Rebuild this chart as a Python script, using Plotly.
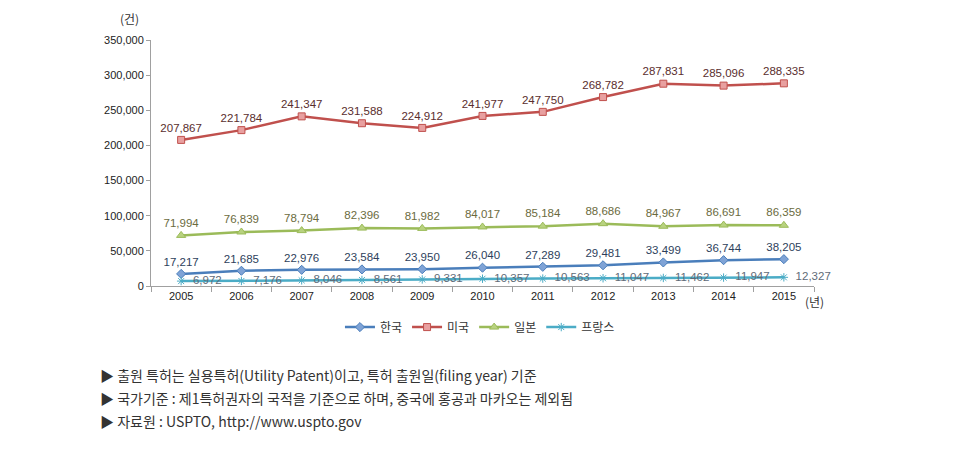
import plotly.graph_objects as go

years = ["2005", "2006", "2007", "2008", "2009", "2010", "2011", "2012", "2013", "2014", "2015"]
korea = [17217, 21685, 22976, 23584, 23950, 26040, 27289, 29481, 33499, 36744, 38205]
usa = [207867, 221784, 241347, 231588, 224912, 241977, 247750, 268782, 287831, 285096, 288335]
japan = [71994, 76839, 78794, 82396, 81982, 84017, 85184, 88686, 84967, 86691, 86359]
france = [6972, 7176, 8046, 8561, 9331, 10357, 10563, 11047, 11462, 11947, 12327]
names = ["한국", "미국", "일본", "프랑스"]
notes = [
    "▶ 출원 특허는 실용특허(Utility Patent)이고, 특허 출원일(filing year) 기준",
    "▶ 국가기준 : 제1특허권자의 국적을 기준으로 하며, 중국에 홍공과 마카오는 제외됨",
    "▶ 자료원 : USPTO, http://www.uspto.gov",
]

font_main = "Noto Sans CJK KR"
lbl_font = dict(family="Liberation Sans, Arial", size=11.5)

fig = go.Figure()
fig.add_trace(go.Scatter(
    x=years, y=korea, name=names[0], mode="lines+markers+text",
    line=dict(color="#4a7ebb", width=2.5),
    marker=dict(symbol="diamond", size=7, color="#7fa3d6", line=dict(color="#4a7ebb", width=1)),
    text=[f"{v:,}" for v in korea], textposition="top center",
    textfont=dict(color="#2e3f5c", **lbl_font), cliponaxis=False,
))
fig.add_trace(go.Scatter(
    x=years, y=usa, name=names[1], mode="lines+markers+text",
    line=dict(color="#c0504d", width=2.5),
    marker=dict(symbol="square", size=7, color="#e8a0a0", line=dict(color="#c0504d", width=1)),
    text=[f"{v:,}" for v in usa], textposition="top center",
    textfont=dict(color="#5a2e2e", **lbl_font), cliponaxis=False,
))
fig.add_trace(go.Scatter(
    x=years, y=japan, name=names[2], mode="lines+markers+text",
    line=dict(color="#9bbb59", width=2.5),
    marker=dict(symbol="triangle-up", size=8, color="#b8d27f", line=dict(color="#9bbb59", width=1)),
    text=[f"{v:,}" for v in japan], textposition="top center",
    textfont=dict(color="#6b6b3e", **lbl_font), cliponaxis=False,
))
fig.add_trace(go.Scatter(
    x=years, y=france, name=names[3], mode="lines+markers+text",
    line=dict(color="#4bacc6", width=2.5),
    marker=dict(symbol="asterisk-open", size=7, color="#4bacc6", line=dict(color="#4bacc6", width=1)),
    text=["  " + f"{v:,}" for v in france], textposition="middle right",
    textfont=dict(color="#5f6b78", **lbl_font), cliponaxis=False,
))

fig.update_layout(
    width=955, height=456,
    margin=dict(l=151, r=141, t=40, b=170),
    paper_bgcolor="white", plot_bgcolor="white",
    font=dict(family=font_main, color="#333333"),
    showlegend=True,
    legend=dict(orientation="h", x=0.285, xanchor="left", y=-0.167, yanchor="middle",
                font=dict(family=font_main, size=12, color="#333333"),
                itemwidth=30, tracegroupgap=0, traceorder="normal"),
    xaxis=dict(type="category", range=[-0.5, 10.5], autorange=False, showgrid=False,
               showline=True, linecolor="#a0a0a0", automargin=False,
               ticks="outside", tickson="boundaries", ticklen=5, tickcolor="#a0a0a0",
               tickfont=dict(family="Liberation Sans, Arial", size=11, color="#222222")),
    yaxis=dict(range=[0, 350000], dtick=50000, tickformat=",", showgrid=False,
               showline=True, linecolor="#a0a0a0", ticks="outside", ticklen=4,
               tickcolor="#a0a0a0", zeroline=False, automargin=False,
               tickfont=dict(family="Liberation Sans, Arial", size=11, color="#222222")),
)

fig.add_annotation(text="(건)", xref="paper", yref="paper", x=-0.033, y=1.088,
                   xanchor="center", yanchor="middle",
                   showarrow=False, font=dict(family=font_main, size=12, color="#333333"))
fig.add_annotation(text="(년)", xref="paper", yref="paper", x=1.0, y=-0.065,
                   xanchor="center", yanchor="middle",
                   showarrow=False, font=dict(family=font_main, size=12, color="#333333"))

for i, t in enumerate(notes):
    fig.add_annotation(text=t, xref="paper", yref="paper", x=-0.08, xanchor="left",
                       y=-0.36 - i * 0.0935, yanchor="middle", showarrow=False,
                       font=dict(family=font_main, size=14, color="#333333"))

fig.write_html("out.html", config={"displayModeBar": False},
               post_script="document.body.style.margin='0';")
